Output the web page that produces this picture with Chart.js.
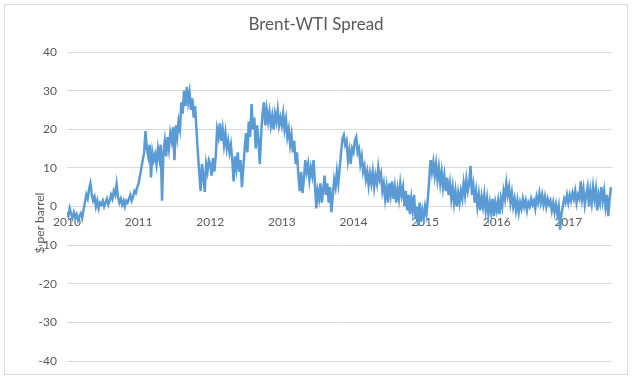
<!DOCTYPE html>
<html>
<head>
<meta charset="utf-8">
<script src="https://cdn.jsdelivr.net/npm/chart.js@4.4.1/dist/chart.umd.min.js"></script>
<style>
  html, body { margin: 0; padding: 0; background: #ffffff; }
  #wrap { width: 633px; height: 381px; position: relative; }
</style>
</head>
<body>
<div id="wrap"><canvas id="c" width="633" height="381"></canvas></div>
<script>
// ---- Data (weekly readings of the Brent-WTI spread, $ per barrel) ----
const chartTitle = "Brent-WTI Spread";
const yAxisTitle = "$ per barrel";
const years = [2010, 2011, 2012, 2013, 2014, 2015, 2016, 2017];
const weeksPerYear = 52;

const spread2010 = [-1.5,-2.5,-0.5,-2,-3,-1.5,-2.8,-2,-3.5,-2.5,-1.8,-3,-1,1,3,2,4.5,6,3,1.5,2.5,0,1.5,-0.5,1,0.5,1.5,0,1,2,0.5,1.5,3,2,4,3,5.8,2.5,1,2,0.5,1.5,0,1.5,1,2,3,1.5,2.5,4,3.5,5];
const spread2011 = [6,8,10,12,14,19.5,15,13,16,7.5,14,12,13.5,11,15,12.5,16,1.5,14,17,13,18,15,19,17,20.5,12,21,18,22,20,27,24,30,26,31,27,29.5,25,28,23,26,20,14,9,4,11,8,3.8,11,9,12];
const spread2012 = [11,8,12.5,9,13,20,18,21.5,17,20,16,19,15,17,14,16,12,6.5,13,10,14,9,12,5,10,15,19,14,22,18,26.5,20,23,15,21,17,11,19,24,27,21,25,22,24.5,21,23.5,20,24,22,25,21,23];
const spread2013 = [21,24,20,22.5,18,20,16,18.5,14,17,11,14,8,4,9,3.5,7,12,9,11,7,10,8,12,6,-0.5,4,2,6,1,4,8,3,6,1,5,-1.5,3,7,5,9,6,10,14,17.5,18.5,16,17,12,14.5,11,15];
const spread2014 = [14,17,18,14,15,11,13,9,10.5,7,9,5.5,8.5,6,9,5,8,6,10,7,8.5,4,6,2,5,1,6,3,6.5,2,5,1,4.5,2,6,3,5,0,4,-1,3,-2,2,-1,3,-3,0,-5,1,-4,-1,-3];
const spread2015 = [0,-2,2,7,12,9,11.5,8,11,7,10,6,9,5,8,4,7.5,3,6,2,5,1,4,0,3.5,1,4,2,6,3,7,4,6,10.5,3,5.5,1,4,0,3,-1,2.5,0,3,-1,2,-2,1,-1.5,2,-2.5,1];
const spread2016 = [-1,1.5,-2,2,0,4,2,6,3,5,1,3.5,0,2,-1,1.5,-1.5,1,-0.5,2,0,1.5,-1,1,0,2,0.5,1.5,-0.5,2.5,1,3.5,1,3,0.5,2.5,0,2,0.5,1.5,-1,1,-1.5,0.5,-2,0,-6,-2,0,2,1,3];
const spread2017 = [1,3,1.5,3.5,2,4,1,3,2,6.5,2,4.5,0.5,3,5,0,4,1,5,2,4.5,-1,3,1,5,1.5,4,0,3,-2.5,2,5];

const yTickMin = -40, yTickMax = 40, yTickStep = 10;
const xStart = 2010, xEnd = 2017.61;

// ---- Build the point list (date as fractional year) ----
const yearly = [spread2010, spread2011, spread2012, spread2013, spread2014, spread2015, spread2016, spread2017];
const points = [];
yearly.forEach((vals, k) => {
  vals.forEach((v, i) => points.push({ x: years[k] + i / weeksPerYear, y: v }));
});

const textColor = '#595959';
const gridColor = '#d9d9d9';
const fontFamily = 'Lato, "Open Sans", sans-serif';

const framePlugin = {
  id: 'frame',
  beforeDraw(chart) {
    const ctx = chart.ctx;
    ctx.save();
    ctx.fillStyle = '#ffffff';
    ctx.fillRect(0, 0, chart.width, chart.height);
    ctx.strokeStyle = gridColor;
    ctx.lineWidth = 1;
    ctx.strokeRect(4.5, 4.5, 623, 370);
    ctx.restore();
  },
  afterDraw(chart) {
    const ctx = chart.ctx;
    ctx.save();
    ctx.fillStyle = textColor;
    ctx.font = '17px ' + fontFamily;
    ctx.textAlign = 'center';
    ctx.textBaseline = 'middle';
    ctx.fillText(chartTitle, 316, 25);
    // vertical axis title
    ctx.translate(40, 223);
    ctx.rotate(-Math.PI / 2);
    ctx.font = '12px ' + fontFamily;
    ctx.fillText(yAxisTitle, 0, 0);
    ctx.restore();
  }
};

new Chart(document.getElementById('c'), {
  type: 'line',
  data: {
    datasets: [{
      data: points,
      borderColor: '#5B9BD5',
      borderWidth: 2.5,
      pointRadius: 0,
      tension: 0,
      fill: false
    }]
  },
  options: {
    responsive: false,
    animation: false,
    devicePixelRatio: 1,
    layout: { padding: { left: 29, right: 21, top: 52, bottom: 20 } },
    plugins: { legend: { display: false }, tooltip: { enabled: false }, title: { display: false } },
    scales: {
      x: {
        type: 'linear',
        position: { y: 0 },
        min: xStart,
        max: xEnd,
        grid: { display: false, drawTicks: false },
        border: { display: false },
        ticks: {
          stepSize: 1,
          includeBounds: false,
          autoSkip: false,
          maxRotation: 0,
          padding: 8,
          color: textColor,
          font: { family: fontFamily, size: 12 },
          callback: v => Number.isInteger(v) ? String(v) : ''
        }
      },
      y: {
        min: yTickMin,
        max: yTickMax,
        afterFit(scale) { scale.width = 38; },
        grid: { color: gridColor, drawTicks: false },
        border: { display: false },
        ticks: {
          stepSize: yTickStep,
          padding: 10,
          color: textColor,
          font: { family: fontFamily, size: 12 }
        }
      }
    }
  },
  plugins: [framePlugin]
});
</script>
</body>
</html>
